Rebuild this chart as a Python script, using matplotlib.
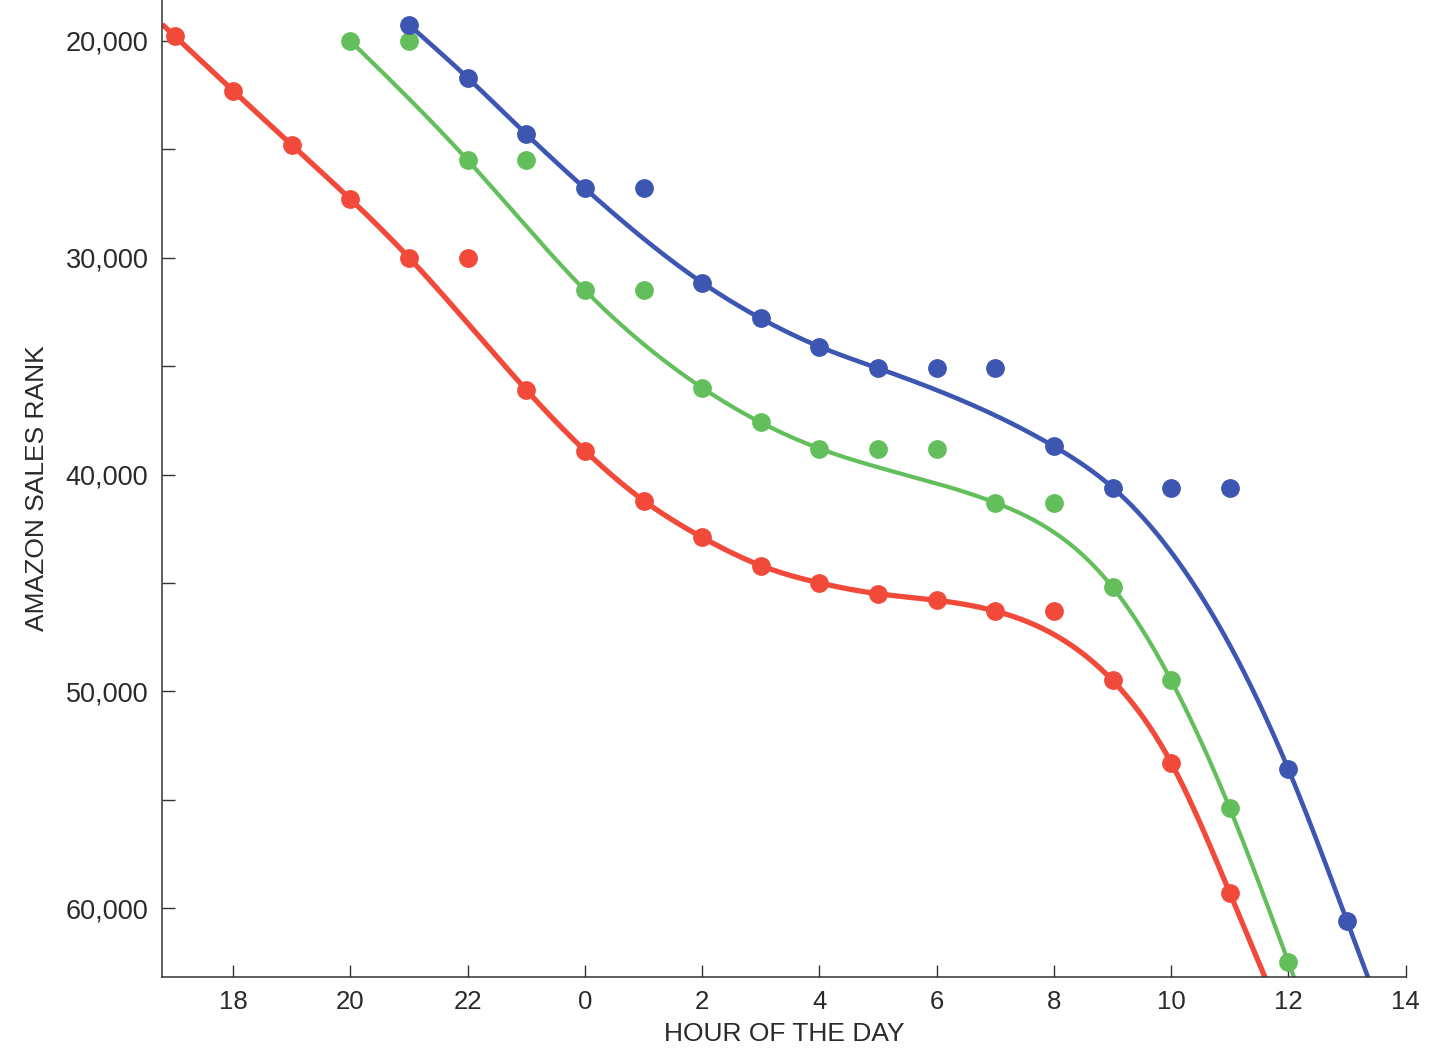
import numpy as np
import matplotlib
matplotlib.use("Agg")
import matplotlib.pyplot as plt
from matplotlib.ticker import FixedLocator, FuncFormatter

# ---------------- data (hours counted continuously: 24 = midnight, 35 = 11 am next day)
red_hours = [17, 18, 19, 20, 21, 22, 23, 24, 25, 26, 27, 28, 29, 30, 31, 32, 33, 34, 35]
red_rank = [19770, 22300, 24800, 27300, 30000, 30000, 36100, 38900, 41200, 42900,
            44200, 45000, 45500, 45800, 46300, 46300, 49500, 53300, 59300]
red_on_curve = [1, 1, 1, 1, 1, 0, 1, 1, 1, 1, 1, 1, 1, 1, 1, 0, 1, 1, 1]

green_hours = [20, 21, 22, 23, 24, 25, 26, 27, 28, 29, 30, 31, 32, 33, 34, 35, 36]
green_rank = [20000, 20000, 25500, 25500, 31500, 31500, 36000, 37600, 38800, 38800,
              38800, 41300, 41300, 45200, 49500, 55400, 62500]
green_on_curve = [1, 0, 1, 0, 1, 0, 1, 1, 1, 0, 0, 1, 0, 1, 1, 1, 1]

blue_hours = [21, 22, 23, 24, 25, 26, 27, 28, 29, 30, 31, 32, 33, 34, 35, 36, 37]
blue_rank = [19260, 21700, 24300, 26800, 26800, 31150, 32800, 34100, 35100, 35100,
             35100, 38700, 40600, 40600, 40600, 53600, 60600]
blue_on_curve = [1, 1, 1, 1, 0, 1, 1, 1, 1, 0, 0, 1, 1, 0, 0, 1, 1]

x_ticks = [18, 20, 22, 24, 26, 28, 30, 32, 34, 36, 38]
y_major = [20000, 30000, 40000, 50000, 60000]
y_minor = [25000, 35000, 45000, 55000]

RED = "#F24A3A"
GREEN = "#63BE5C"
BLUE = "#3C56B2"


def natural_spline(x, y, xs):
    x = np.asarray(x, float)
    y = np.asarray(y, float)
    n = len(x)
    h = np.diff(x)
    M = np.zeros(n)
    if n > 2:
        A = np.zeros((n - 2, n - 2))
        rhs = np.zeros(n - 2)
        for i in range(n - 2):
            A[i, i] = 2 * (h[i] + h[i + 1])
            if i + 1 < n - 2:
                A[i, i + 1] = h[i + 1]
                A[i + 1, i] = h[i + 1]
            rhs[i] = 6 * ((y[i + 2] - y[i + 1]) / h[i + 1] - (y[i + 1] - y[i]) / h[i])
        M[1:-1] = np.linalg.solve(A, rhs)
    xs = np.asarray(xs, float)
    out = np.empty_like(xs)
    d0 = (y[1] - y[0]) / h[0] - h[0] * (2 * M[0] + M[1]) / 6
    dn = (y[-1] - y[-2]) / h[-1] + h[-1] * (M[-2] + 2 * M[-1]) / 6
    for k, t in enumerate(xs):
        if t < x[0]:
            out[k] = y[0] + d0 * (t - x[0])
        elif t > x[-1]:
            out[k] = y[-1] + dn * (t - x[-1])
        else:
            i = min(max(np.searchsorted(x, t) - 1, 0), n - 2)
            a = x[i + 1] - t
            b = t - x[i]
            out[k] = (M[i] * a ** 3 / (6 * h[i]) + M[i + 1] * b ** 3 / (6 * h[i])
                      + (y[i] / h[i] - M[i] * h[i] / 6) * a
                      + (y[i + 1] / h[i] - M[i + 1] * h[i] / 6) * b)
    return out


fig = plt.figure(figsize=(14.49, 10.60), dpi=100)
ax = fig.add_axes([0.112, 0.0783, 0.8581, 0.9217])

XMIN, XMAX = 16.79, 38.0
YTOP, YBOT = 18110, 63180

series = [
    (red_hours, red_rank, red_on_curve, RED, 3.8, 16.79),
    (green_hours, green_rank, green_on_curve, GREEN, 3.0, None),
    (blue_hours, blue_rank, blue_on_curve, BLUE, 3.3, None),
]

for hrs, rk, on, col, lw, xstart in series:
    hrs = np.asarray(hrs, float)
    rk = np.asarray(rk, float)
    on = np.asarray(on, bool)
    xc, yc = hrs[on], rk[on]
    start = xstart if xstart is not None else xc[0]
    xs = np.linspace(start, xc[-1] + 1.0, 600)
    ys = natural_spline(xc, yc, xs)
    keep = ys <= YBOT + 300
    ax.plot(xs[keep], ys[keep], color=col, lw=lw, solid_capstyle="butt", zorder=2)
    ax.plot(hrs, rk, "o", color=col, ms=12.5, mec=col, zorder=3, clip_on=False)

ax.set_xlim(XMIN, XMAX)
ax.set_ylim(YBOT, YTOP)

ax.xaxis.set_major_locator(FixedLocator(x_ticks))
ax.xaxis.set_major_formatter(FuncFormatter(lambda v, p: f"{int(v) % 24}"))
ax.yaxis.set_major_locator(FixedLocator(y_major))
ax.yaxis.set_minor_locator(FixedLocator(y_minor))
ax.yaxis.set_major_formatter(FuncFormatter(lambda v, p: f"{int(v):,}"))

for s in ["top", "right"]:
    ax.spines[s].set_visible(False)
for s in ["left", "bottom"]:
    ax.spines[s].set_color("#333333")
    ax.spines[s].set_linewidth(1.1)

ax.tick_params(axis="x", direction="in", length=9, width=1.0, color="#333333",
               labelsize=18.5, labelcolor="#2a2a2a", pad=9)
ax.tick_params(axis="y", which="both", direction="in", length=9, width=1.0,
               color="#333333", labelsize=19.5, labelcolor="#2a2a2a", pad=10)
for lab in ax.get_xticklabels() + ax.get_yticklabels():
    lab.set_fontfamily("Liberation Sans")

ax.set_xlabel("HOUR OF THE DAY", fontsize=19, color="#2a2a2a",
              fontfamily="Liberation Sans", labelpad=6)
ax.set_ylabel("AMAZON SALES RANK", fontsize=19, color="#2a2a2a",
              fontfamily="Liberation Sans", labelpad=12)

fig.savefig("out.png", dpi=100)
